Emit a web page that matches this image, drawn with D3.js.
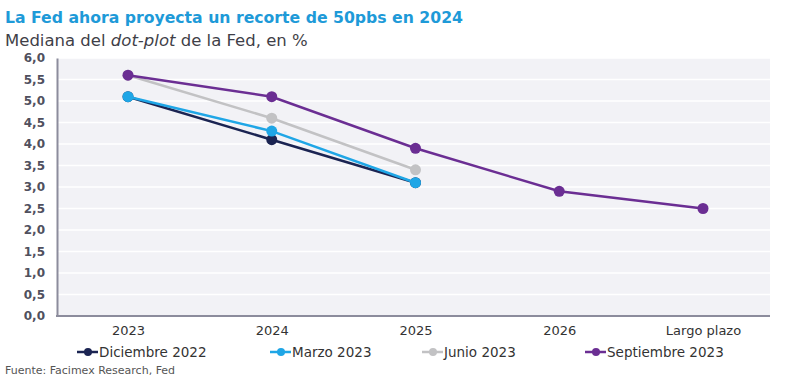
<!DOCTYPE html>
<html><head><meta charset="utf-8">
<script src="https://cdn.jsdelivr.net/npm/d3@7"></script>
<style>
body{margin:0;background:#fff;}
text{font-family:"DejaVu Sans","Noto Sans",sans-serif;}
</style></head>
<body><svg id="c" width="800" height="382"></svg>
<script>
const categories = ["2023","2024","2025","2026","Largo plazo"];
const seriesNames = ["Diciembre 2022","Marzo 2023","Junio 2023","Septiembre 2023"];
const dic2022 = [5.1, 4.1, 3.1];
const mar2023 = [5.1, 4.3, 3.1];
const jun2023 = [5.6, 4.6, 3.4];
const sep2023 = [5.6, 5.1, 3.9, 2.9, 2.5];
const yTicks = [0,0.5,1,1.5,2,2.5,3,3.5,4,4.5,5,5.5,6];
const colors = ["#1b2452","#1fa6e6","#c2c2c4","#6b2e93"];
const seriesValues = [dic2022, mar2023, jun2023, sep2023];

const svg = d3.select("#c");
const x = d3.scalePoint().domain(categories).range([128, 703]);
const y = d3.scaleLinear().domain([0,6]).range([316,58]);

svg.append("rect").attr("x",57).attr("y",y(6)).attr("width",713).attr("height",y(0)-y(6)).attr("fill","#f2f2f6");
svg.append("g").selectAll("line").data(yTicks.slice(1)).join("line")
  .attr("x1",57).attr("x2",770).attr("y1",d=>y(d)).attr("y2",d=>y(d))
  .attr("stroke","#ffffff").attr("stroke-width",1.5);

const yAxis = svg.append("g").attr("transform","translate(57,0)")
  .call(d3.axisLeft(y).tickValues(yTicks).tickSize(0).tickPadding(12)
    .tickFormat(d=>d3.format(".1f")(d).replace(".",",")));
yAxis.select(".domain").attr("stroke","#8c8c9c").attr("stroke-width",2);
yAxis.selectAll("text").attr("font-size",12).attr("font-weight",700).attr("fill","#50505e");

const xAxis = svg.append("g").attr("transform","translate(0,316)")
  .call(d3.axisBottom(x).tickSize(0).tickPadding(10));
xAxis.select(".domain").attr("d","M56,0H770").attr("stroke","#8c8c9c").attr("stroke-width",2);
xAxis.selectAll("text").attr("font-size",13).attr("fill","#333");

const line = d3.line().x((d,i)=>x(categories[i])).y(d=>y(d));
seriesValues.forEach((vals,si)=>{
  const g = svg.append("g");
  g.append("path").attr("d",line(vals)).attr("fill","none").attr("stroke",colors[si]).attr("stroke-width",2.5);
  g.selectAll("circle").data(vals).join("circle")
    .attr("cx",(d,i)=>x(categories[i])).attr("cy",d=>y(d)).attr("r",5.5).attr("fill",colors[si]);
});

const legX = [77, 270, 422, 585];
const lg = svg.append("g");
seriesNames.forEach((n,i)=>{
  const g = lg.append("g").attr("transform",`translate(${legX[i]},352)`);
  g.append("line").attr("x1",0).attr("x2",21).attr("stroke",colors[i]).attr("stroke-width",2.5);
  g.append("circle").attr("cx",11).attr("r",4).attr("fill",colors[i]);
  g.append("text").attr("x",22).attr("y",5).attr("font-size",13.5).attr("fill","#333").text(n);
});

svg.append("text").attr("x",5).attr("y",23).attr("font-size",15).attr("font-weight",700).attr("fill","#1e9ad8")
  .attr("textLength",458).attr("lengthAdjust","spacingAndGlyphs")
  .text("La Fed ahora proyecta un recorte de 50pbs en 2024");
const st = svg.append("text").attr("x",5).attr("y",46).attr("font-size",16.5).attr("fill","#3f3f48");
st.append("tspan").text("Mediana del ");
st.append("tspan").attr("font-style","italic").text("dot-plot");
st.append("tspan").text(" de la Fed, en %");
svg.append("text").attr("x",5).attr("y",374).attr("font-size",11).attr("fill","#555").text("Fuente: Facimex Research, Fed");
</script></body></html>
